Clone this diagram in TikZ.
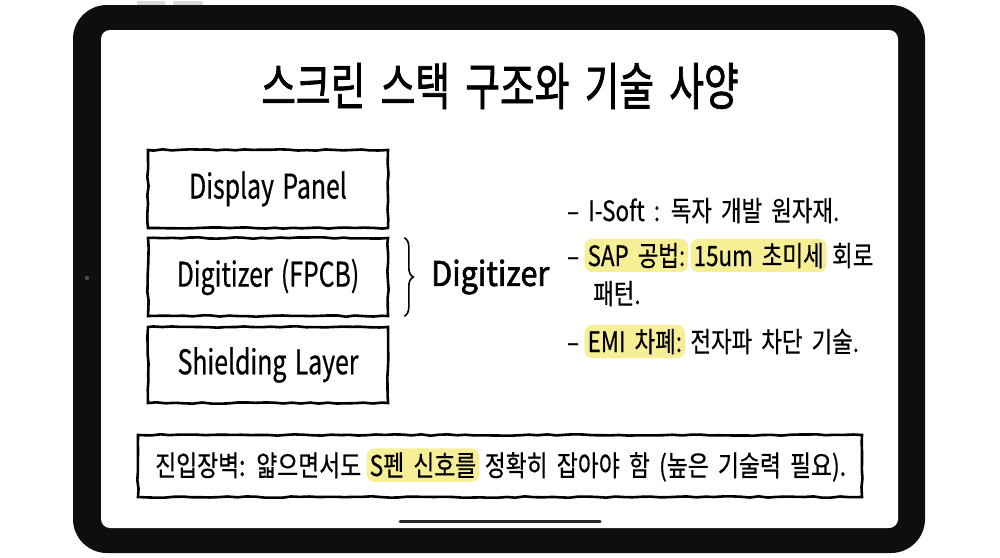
\documentclass[tikz,border=0pt]{standalone}
\usepackage{fontspec}
\setmainfont{Noto Sans CJK KR}[FakeStretch=0.8, WordSpace=1.8, FakeBold=0.5]
\newfontfamily\titlefont{Noto Sans CJK KR}[FakeStretch=0.74, WordSpace=1.8, FakeBold=1.4]
\newfontfamily\boxfont{Noto Sans CJK KR}[FakeStretch=0.73, WordSpace=1.5, FakeBold=0.5]
\newfontfamily\boldfont{Noto Sans CJK KR}[FakeStretch=0.9, FakeBold=1.8]
\usetikzlibrary{decorations.pathmorphing,decorations.pathreplacing}
\definecolor{hly}{RGB}{247,239,150}
\definecolor{framecol}{RGB}{14,14,14}
\pgfmathsetseed{11}
\begin{document}
\begin{tikzpicture}[x=1pt,y=-1pt,
  sketchbox/.style={draw=black, line width=2.6pt, decorate,
    decoration={random steps, segment length=9pt, amplitude=0.7pt},
    inner sep=0pt},
  layerbox/.style={sketchbox, minimum width=240pt, minimum height=78pt,
    font=\boxfont\fontsize{34}{40}\selectfont},
  txt/.style={inner sep=0pt, font=\fontsize{28}{32}\selectfont},
  hl/.style={fill=hly, rounded corners=8pt, inner xsep=3pt, inner ysep=4pt,
    font=\fontsize{28}{32}\selectfont},
  btxt/.style={inner sep=0pt, font=\fontsize{28.5}{32}\selectfont},
  bhl/.style={hl, font=\fontsize{28.5}{32}\selectfont}]
\useasboundingbox (0,0) rectangle (1000,557);
\fill[white] (0,0) rectangle (1000,557);
% tablet frame
\fill[gray!30, rounded corners=1pt] (137,1) rectangle (165,7);
\fill[gray!30, rounded corners=1pt] (173,1) rectangle (203,7);
\fill[framecol, rounded corners=34pt] (73,5) rectangle (925,553);
\fill[white, rounded corners=9pt] (101,30) rectangle (898,528);
\fill[black!70] (87,278) circle (2.2);
% title
\node[font=\titlefont\fontsize{51}{56}\selectfont] (title) at (500,86) {스크린 스택 구조와 기술 사양};
% layers
\node[layerbox] (panel) at (268,189) {Display Panel};
\node[layerbox] (digi) at (268,277) {Digitizer (FPCB)};
\node[layerbox, minimum height=76pt] (shield) at (268,365) {Shielding Layer};
% brace
\draw[line width=1.6pt, decorate, decoration={brace, amplitude=9pt}]
  ([xshift=15pt,yshift=-1pt]digi.north east) -- ([xshift=15pt,yshift=1pt]digi.south east);
\node[font=\boldfont\fontsize{34}{40}\selectfont, anchor=west, inner sep=0pt] (dlabel) at (431,277) {Digitizer};
% bullets
\node[txt, anchor=base west] (b1) at (567,221) {– I-Soft : 독자 개발 원자재.};
\node[txt, anchor=base west] (b2a) at (567,266) {–};
\node[hl, anchor=base west] (b2b) at ([xshift=5pt]b2a.base east) {SAP 공법:};
\node[hl, anchor=base west] (b2c) at ([xshift=2pt]b2b.base east) {15um 초미세};
\node[txt, anchor=base west] (b2d) at ([xshift=5pt]b2c.base east) {회로};
\node[txt, anchor=base west] (b3) at (593,304) {패턴.};
\node[txt, anchor=base west] (b4a) at (567,352) {–};
\node[hl, anchor=base west] (b4b) at ([xshift=5pt]b4a.base east) {EMI 차폐:};
\node[txt, anchor=base west] (b4c) at ([xshift=5pt]b4b.base east) {전자파 차단 기술.};
% bottom bar
\node[sketchbox, minimum width=724pt, minimum height=62pt] (bar) at (500,466) {};
\node[btxt, anchor=base west] (t1) at (155,476) {진입장벽: 얇으면서도};
\node[bhl, anchor=base west] (t2) at ([xshift=5pt]t1.base east) {S펜 신호를};
\node[btxt, anchor=base west] (t3) at ([xshift=5pt]t2.base east) {정확히 잡아야 함 (높은 기술력 필요).};
% home indicator
\draw[line width=3pt, line cap=round, black!85] (400,521) -- (600,521);
\end{tikzpicture}
\end{document}
